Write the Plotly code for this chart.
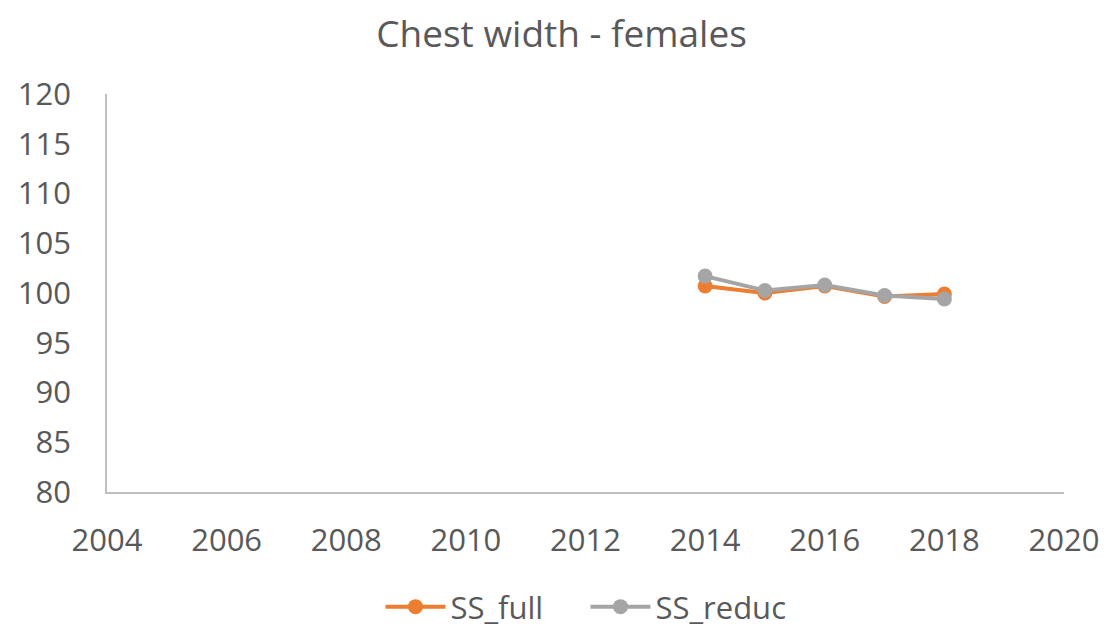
import plotly.graph_objects as go

years = [2014, 2015, 2016, 2017, 2018]
ss_full = [100.7, 100.0, 100.7, 99.65, 99.9]
ss_reduc = [101.7, 100.25, 100.8, 99.75, 99.4]
x_ticks = [2004, 2006, 2008, 2010, 2012, 2014, 2016, 2018, 2020]
y_ticks = [80, 85, 90, 95, 100, 105, 110, 115, 120]

font = "Open Sans"
fig = go.Figure()
fig.add_trace(go.Scatter(x=years, y=ss_full, name="SS_full", mode="lines+markers",
                         line=dict(color="#ED7D31", width=4),
                         marker=dict(size=15, color="#ED7D31")))
fig.add_trace(go.Scatter(x=years, y=ss_reduc, name="SS_reduc", mode="lines+markers",
                         line=dict(color="#A5A5A5", width=4),
                         marker=dict(size=15, color="#A5A5A5")))
fig.update_layout(
    width=1107, height=629,
    paper_bgcolor="white", plot_bgcolor="white",
    margin=dict(l=99, r=51, t=86, b=145),
    title=dict(text="Chest width - females", x=0.5, xanchor="center",
               yref="container", y=1 - 26 / 629, yanchor="middle",
               font=dict(family=font, size=37, color="#595959")),
    font=dict(family=font, color="#595959"),
    xaxis=dict(range=[2004, 2020], tickvals=x_ticks, showgrid=False, zeroline=False,
               showline=True, linecolor="#BFBFBF", linewidth=1.5, ticks="",
               ticklabelstandoff=20, automargin=False,
               tickfont=dict(size=31, color="#595959")),
    yaxis=dict(range=[80, 120], tickvals=y_ticks, showgrid=False, zeroline=False,
               showline=True, linecolor="#BFBFBF", linewidth=1.5, ticks="",
               ticklabelstandoff=28, automargin=False,
               tickfont=dict(size=31, color="#595959")),
    legend=dict(orientation="h", x=0.5, xanchor="center",
                yref="container", y=1 - 599 / 629, yanchor="middle",
                itemwidth=60, entrywidth=130,
                font=dict(size=31, color="#595959")),
    showlegend=True,
)
fig.write_html("out.html")
